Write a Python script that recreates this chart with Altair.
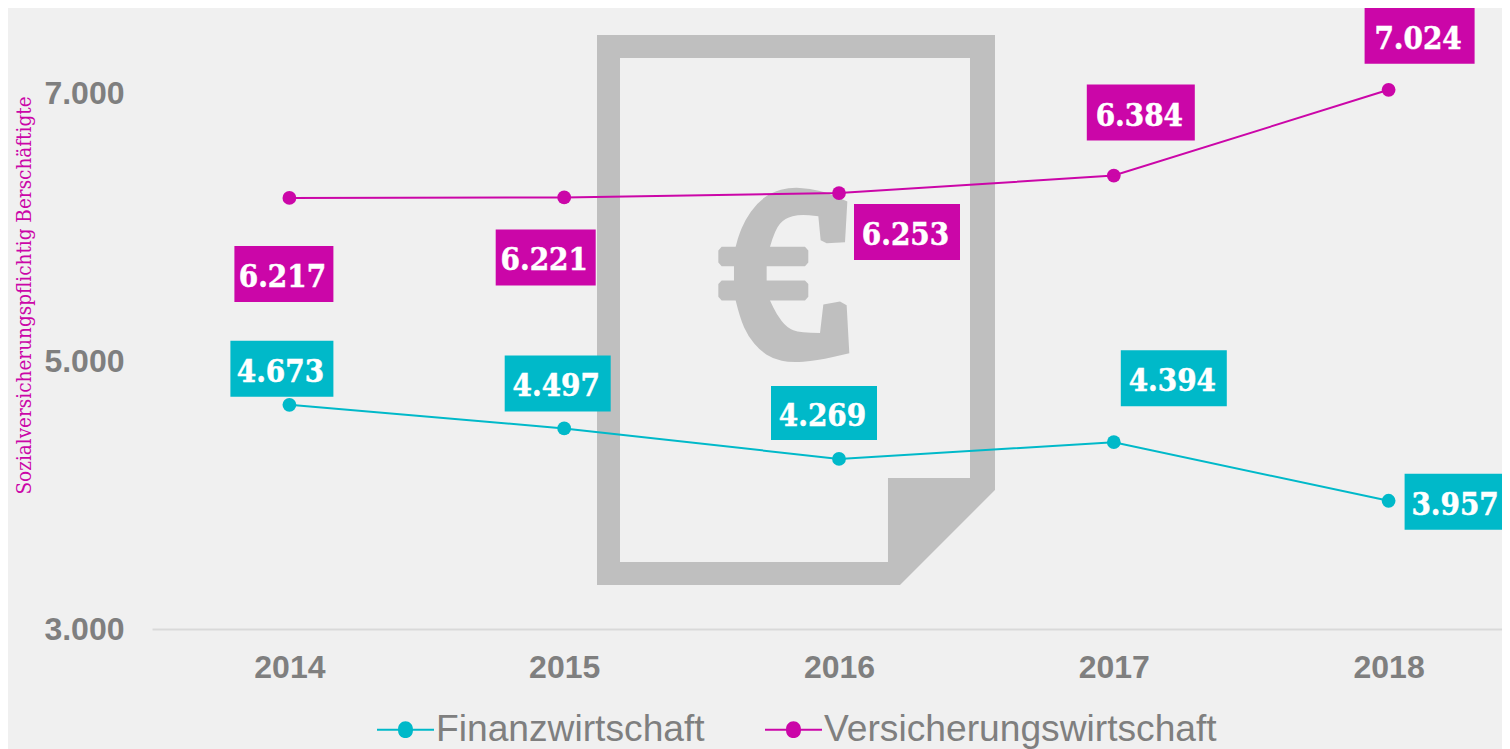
import altair as alt
import pandas as pd

years = ["2014", "2015", "2016", "2017", "2018"]
finanz = [4673, 4497, 4269, 4394, 3957]
versicherung = [6217, 6221, 6253, 6384, 7024]
series_names = ["Finanzwirtschaft", "Versicherungswirtschaft"]
y_ticks = [3000, 5000, 7000]

TEAL = "#00b9c9"
MAGENTA = "#cb06a8"
GRAY = "#7f7f7f"
BG = "#f0f0f0"
ICON = "#bfbfbf"
SANS = "Liberation Sans"
SERIF = "DejaVu Serif Condensed"

rows = []
for name, vals in zip(series_names, [finanz, versicherung]):
    for yr, v in zip(years, vals):
        rows.append({"Jahr": yr, "Wert": v, "Reihe": name,
                     "Text": f"{v:,}".replace(",", ".")})
df = pd.DataFrame(rows)

# label box placement relative to its point: (dx, dy, w, h)
boxes = {
    "Finanzwirtschaft": [(-7.5, -36, 103, 56), (-6.5, -45, 106, 56), (-15, -46, 106, 54),
                         (60, -64, 106, 56), (68, 1, 104, 56)],
    "Versicherungswirtschaft": [(-5.5, 76, 99, 56), (-18.5, 60, 100, 56), (68, 39, 106, 56),
                                (27, -63, 108, 56), (31, -54, 110, 56)],
}

x_enc = alt.X("Jahr:N", sort=years,
              scale=alt.Scale(type="point", padding=0.5, range=[0, 1374]),
              axis=alt.Axis(title=None, labelAngle=0, labelFont=SANS, labelFontSize=32,
                            labelFontWeight="bold", labelColor=GRAY, labelPadding=23,
                            ticks=False, grid=False, domainColor="#d9d9d9", domainWidth=2))
y_enc = alt.Y("Wert:Q", scale=alt.Scale(domain=[3000, 7000], nice=False, zero=False),
              axis=alt.Axis(values=y_ticks, grid=False, domain=False, ticks=False,
                            labelExpr="replace(format(datum.value, ','), ',', '.')",
                            labelFont=SANS, labelFontSize=32, labelFontWeight="bold",
                            labelColor=GRAY, labelPadding=28,
                            title="Sozialversicherungspflichtig Berschäftigte",
                            titleFont=SERIF, titleFontWeight="normal", titleFontSize=20.5,
                            titleColor=MAGENTA, titleAngle=270, titleX=-122, titleY=202,
                            titleAlign="center", titleBaseline="alphabetic"))

legend_symbol = ("M-1,-0.035L-0.26,-0.035A0.26,0.26 0 0 1 0.26,-0.035L1,-0.035L1,0.035"
                 "L0.26,0.035A0.26,0.26 0 0 1 -0.26,0.035L-1,0.035Z")
color_enc = alt.Color("Reihe:N", scale=alt.Scale(domain=series_names, range=[TEAL, MAGENTA]),
                      sort=series_names,
                      legend=alt.Legend(title=None, orient="none", direction="horizontal",
                                        legendX=225, legendY=608, symbolType=legend_symbol,
                                        symbolSize=3249, symbolStrokeWidth=0, symbolOpacity=1,
                                        labelFont=SANS, labelFontSize=37.2, labelColor=GRAY,
                                        labelOffset=2, labelLimit=600, columnPadding=60))

# decorative document-with-euro icon, as one custom symbol
CX, CY, UNIT = 796, 310, 275.0


def pt(p):
    return f"{(p[0] - CX) / UNIT:.4f},{(p[1] - CY) / UNIT:.4f}"


def poly(points):
    return "M" + "L".join(pt(p) for p in points) + "Z"


def z(points):
    return [(590 + zx / 3, 20 + zy / 2.7) for zx, zy in points]


def straight(points):
    return "".join("L" + pt(p) for p in z(points))


def smooth(points):
    pts = z(points)
    out = "L" + pt(pts[0])
    for i in range(1, len(pts) - 1):
        mid = ((pts[i][0] + pts[i + 1][0]) / 2, (pts[i][1] + pts[i + 1][1]) / 2)
        out += "Q" + pt(pts[i]) + " " + pt(mid)
    return out + "L" + pt(pts[-1])


outer = [(597, 35), (995, 35), (995, 490), (900, 585), (597, 585)]
inner = [(620, 58), (620, 562), (888, 562), (888, 478), (970, 478), (970, 58)]
euro = ("M" + pt(z([(772, 490)])[0])
        + smooth([(772, 490), (720, 468), (660, 455), (600, 452), (545, 465), (500, 495), (465, 540),
                  (445, 585), (437, 612)])
        + straight([(395, 612), (385, 622), (385, 655), (395, 665), (432, 665), (432, 703), (395, 703),
                    (385, 713), (385, 747), (395, 757)])
        + smooth([(437, 757), (450, 805), (475, 855), (510, 892), (550, 915), (600, 925), (680, 920),
                  (778, 900)])
        + straight([(770, 770), (750, 760), (700, 768)])
        + smooth([(690, 845), (630, 845), (590, 830), (560, 795), (540, 757)])
        + straight([(645, 757), (655, 747), (655, 713), (645, 703), (530, 703), (530, 665), (645, 665),
                    (655, 655), (655, 622), (645, 612)])
        + smooth([(540, 612), (555, 565), (585, 535), (630, 525), (685, 530)])
        + straight([(692, 595), (710, 603), (765, 600)]) + "Z")
icon_path = poly(outer) + poly(inner) + euro

icon = alt.Chart(pd.DataFrame({"i": [0]})).mark_point(
    shape=icon_path, filled=True, fill=ICON, stroke=None, opacity=1, size=(2 * UNIT) ** 2
).encode(x=alt.value(CX - 152), y=alt.value(CY - 93))

points = alt.Chart(df).mark_point(filled=True, size=190, opacity=1).encode(
    x=x_enc, y=y_enc, color=color_enc)
lines = alt.Chart(df).mark_line(strokeWidth=2).encode(
    x=x_enc, y=y_enc, color=color_enc)

layers = [icon, points, lines]
for name in series_names:
    colour = TEAL if name == series_names[0] else MAGENTA
    for yr, (dx, dy, w, h) in zip(years, boxes[name]):
        sel = df[(df["Reihe"] == name) & (df["Jahr"] == yr)]
        layers.append(alt.Chart(sel).mark_rect(color=colour, width=w, height=h, xOffset=dx, yOffset=dy)
                      .encode(x=x_enc, y=y_enc))
        layers.append(alt.Chart(sel).mark_text(color="white", font=SERIF, fontWeight="bold",
                                               fontSize=31, xOffset=dx - 1.5, yOffset=dy + 4,
                                               stroke="white", strokeWidth=0.5,
                                               align="center", baseline="middle")
                      .encode(x=x_enc, y=y_enc, text="Text:N"))

chart = alt.layer(*layers).properties(
    width=1350, height=536, background=BG,
    padding={"left": 144, "top": 85, "right": 0, "bottom": 120},
    autosize=alt.AutoSizeParams(type="none"),
).configure_view(stroke=None)

chart.save("out.html", embed_options={"renderer": "svg", "actions": False})
